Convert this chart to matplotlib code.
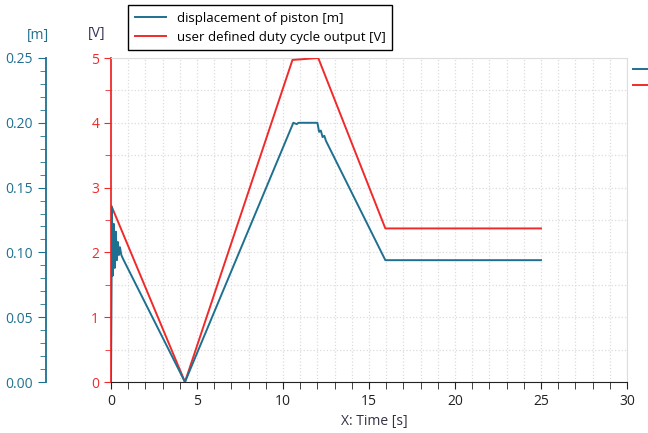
import matplotlib.pyplot as plt
from matplotlib.lines import Line2D
from matplotlib.ticker import MultipleLocator

plt.rcParams['font.family'] = ['Open Sans', 'DejaVu Sans']

TEAL = '#1f7090'
RED = '#f02a2a'

# user defined duty cycle output [V]
t_volt = [0, 0.02, 4.3, 10.55, 12.05, 15.95, 25]
volt = [0, 2.72, 0, 4.97, 5.0, 2.37, 2.37]

# displacement of piston [m]
t_disp = [0, 0.05, 0.1, 0.16, 0.22, 0.28, 0.34, 0.4, 0.46, 0.52, 0.6, 0.7,
          4.3, 10.6, 10.8, 10.9, 11.2, 12.0, 12.1, 12.2, 12.3, 12.4, 12.5,
          15.95, 16.1, 25]
disp = [0, 0.135, 0.082, 0.122, 0.088, 0.116, 0.094, 0.108, 0.098, 0.104, 0.098, 0.095,
        0.0, 0.2, 0.199, 0.2, 0.2, 0.2, 0.193, 0.194, 0.189, 0.19, 0.186,
        0.094, 0.094, 0.094]

fig = plt.figure(figsize=(6.48, 4.33), dpi=100)
ax = fig.add_axes([111/648, 1 - 382/433, 516/648, 324/433])
ax2 = ax.twinx()

# red axis (V)
ax.plot(t_volt, volt, color=RED, lw=1.4, zorder=3)
ax.set_xlim(0, 30)
ax.set_ylim(0, 5)
ax.xaxis.set_major_locator(MultipleLocator(5))
ax.xaxis.set_minor_locator(MultipleLocator(1))
ax.yaxis.set_major_locator(MultipleLocator(1))
ax.yaxis.set_minor_locator(MultipleLocator(0.5))
ax.grid(which='both', color='#dcdcdc', ls=':', lw=0.9)
ax.set_axisbelow(True)
ax.spines['left'].set_color(RED)
ax.spines['left'].set_linewidth(1.3)
ax.spines['bottom'].set_color('#222222')
ax.spines['top'].set_color('#dddddd')
ax.spines['right'].set_color('#dddddd')
ax.tick_params(axis='y', which='both', colors=RED, labelsize=10, length=5)
ax.tick_params(axis='y', which='minor', length=4)
ax.tick_params(axis='x', which='both', colors='#222222', labelsize=10, length=5)
ax.set_xlabel('X: Time [s]', fontsize=10, color='#333344')
ax.xaxis.set_label_coords(0.51, -0.1)

# teal axis (m), placed further left
ax2.plot(t_disp, disp, color=TEAL, lw=1.4, zorder=3)
ax2.set_ylim(0, 0.25)
ax2.yaxis.set_ticks_position('left')
ax2.yaxis.set_label_position('left')
ax2.spines['left'].set_position(('axes', -65/516))
ax2.spines['left'].set_visible(True)
ax2.spines['left'].set_color(TEAL)
ax2.spines['left'].set_linewidth(1.3)
for s in ['right', 'top', 'bottom']:
    ax2.spines[s].set_visible(False)
ax2.yaxis.set_major_locator(MultipleLocator(0.05))
ax2.yaxis.set_minor_locator(MultipleLocator(0.01))
ax2.yaxis.set_major_formatter(plt.FormatStrFormatter('%.2f'))
ax2.tick_params(axis='y', which='both', colors=TEAL, labelsize=10, length=6)
ax2.tick_params(axis='y', which='minor', length=4)

fig.text(38/648, 1 - 36/433, '[m]', color=TEAL, fontsize=10, ha='center', va='center')
fig.text(97/648, 1 - 33/433, '[V]', color='#333355', fontsize=10, ha='center', va='center')

handles = [Line2D([], [], color=TEAL, lw=1.4), Line2D([], [], color=RED, lw=1.4)]
leg = fig.legend(handles, ['displacement of piston [m]', 'user defined duty cycle output [V]'],
                 loc='upper left', bbox_to_anchor=(128/648, 1 - 5/433), fontsize=9.5,
                 frameon=True, fancybox=False, edgecolor='black', framealpha=1,
                 handlelength=2.4, borderpad=0.5, labelspacing=0.45, borderaxespad=0)
leg.get_frame().set_linewidth(1.0)

# cut-off legend stubs on the right edge
fig.add_artist(Line2D([633/648, 1], [1 - 69/433] * 2, color=TEAL, lw=1.4))
fig.add_artist(Line2D([633/648, 1], [1 - 85/433] * 2, color=RED, lw=1.4))

fig.savefig('out.png', dpi=100)
